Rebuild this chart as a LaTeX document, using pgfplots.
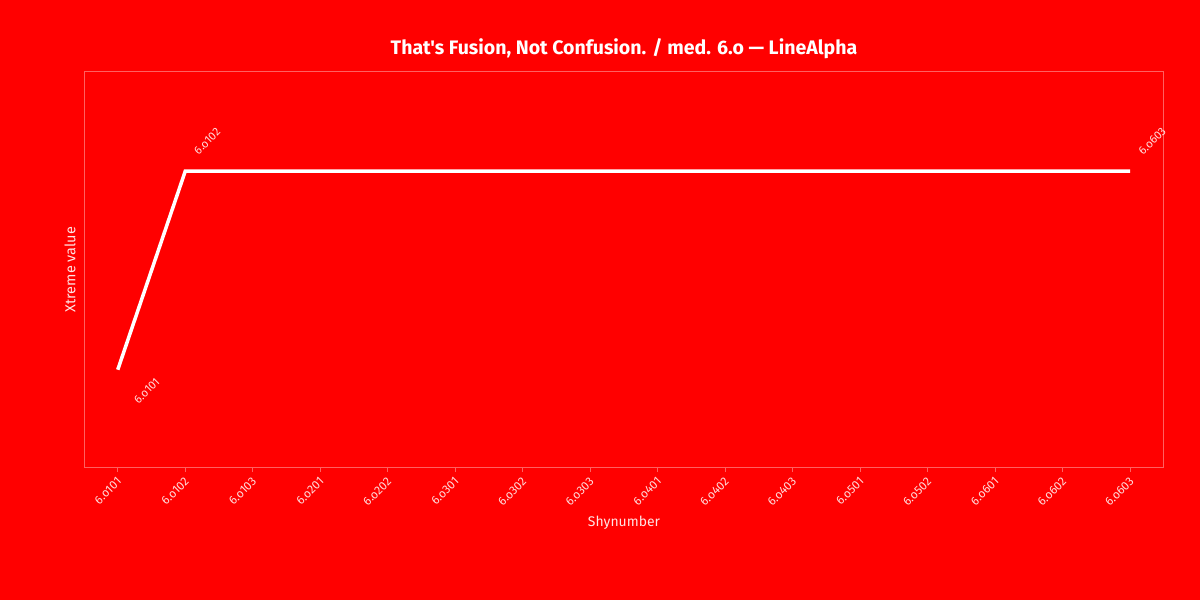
\documentclass[border=0pt]{standalone}
\usepackage{pgfplots}
\pgfplotsset{compat=1.18}
\usepackage{fontspec}
\setmainfont{Fira Sans}[Ligatures=TeXOff]
\definecolor{bg}{HTML}{FF0000}
\definecolor{frame}{HTML}{FF6060}
\definecolor{ticklab}{HTML}{FFDADA}
\definecolor{labtext}{HTML}{FFE4E4}

\begin{document}
\begin{tikzpicture}[x=1bp,y=1bp]
% page: 1200 x 600, axis box from (84,133) to (1164,528) measured from bottom left
\fill[bg] (-84bp,-133bp) rectangle (1116bp,467bp);
\begin{axis}[
    scale only axis, width=1080bp, height=395bp,
    xmin=-0.5, xmax=15.5, ymin=-0.49, ymax=1.5,
    axis line style={draw=frame, line width=1bp},
    ytick=\empty,
    xtick={0,...,15},
    xticklabels={6.o101,6.o102,6.o103,6.o201,6.o202,6.o301,6.o302,6.o303,
                 6.o401,6.o402,6.o403,6.o501,6.o502,6.o601,6.o602,6.o603},
    xtick pos=bottom, tick align=outside,
    major tick length=5bp,
    tick style={draw=frame, line width=1bp},
    x tick label style={rotate=45, anchor=north east, text=ticklab,
        font=\fontsize{12}{14}\selectfont, inner sep=2bp, xshift=-2bp},
    xlabel={Shynumber},
    xlabel style={at={(axis description cs:0.5,-0.141)}, anchor=center,
        text=labtext, font=\fontsize{14}{16}\selectfont},
    ylabel={Xtreme value},
    ylabel style={at={(axis description cs:-0.013,0.5)}, anchor=center,
        text=labtext, font=\fontsize{14.5}{16}\selectfont},
    title={That's Fusion, Not Confusion. / med. 6.o — LineAlpha},
    title style={at={(axis description cs:0.5,1.044)}, anchor=center,
        text=white, font=\bfseries\fontsize{19.6}{22}\selectfont},
  ]
  \addplot[white, line width=3.5bp] coordinates {
    (0,0) (1,1) (2,1) (3,1) (4,1) (5,1) (6,1) (7,1)
    (8,1) (9,1) (10,1) (11,1) (12,1) (13,1) (14,1) (15,1)
  };
  \addplot[draw=none, point meta=explicit symbolic, nodes near coords,
    nodes near coords style={xshift=29bp, yshift=-21bp, rotate=45, anchor=center,
      text=ticklab, font=\fontsize{11.5}{13}\selectfont}]
    coordinates {(0,0)[6.o101]};
  \addplot[draw=none, point meta=explicit symbolic, nodes near coords,
    nodes near coords style={xshift=22bp, yshift=30bp, rotate=45, anchor=center,
      text=ticklab, font=\fontsize{11.5}{13}\selectfont}]
    coordinates {(1,1)[6.o102] (15,1)[6.o603]};
\end{axis}
\pgfresetboundingbox
\path (-84bp,-133bp) rectangle (1116bp,467bp);
\end{tikzpicture}
\end{document}
